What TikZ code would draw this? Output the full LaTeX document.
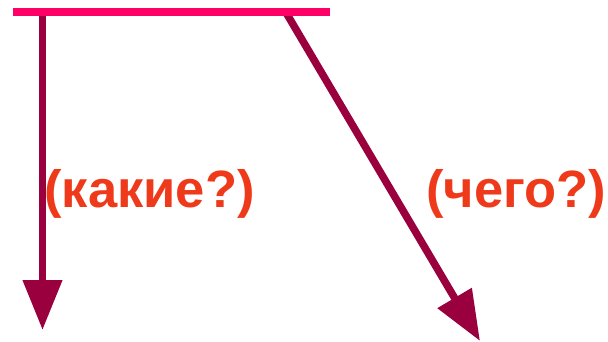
\documentclass[tikz,border=0pt]{standalone}
\usepackage{fontspec}
\setmainfont{Liberation Sans}
\usepackage{xcolor}
\usepackage{tikz}
\usetikzlibrary{arrows.meta, positioning}
\definecolor{barpink}{HTML}{FF0066}
\definecolor{wine}{HTML}{99003D}
\definecolor{askred}{HTML}{EE3A1A}
\tikzset{
  bar/.style={line width=8pt, color=barpink},
  qarrow/.style={-{Triangle[length=50pt, width=38pt]}, line width=7.5pt, color=wine},
  question/.style={font=\fontsize{52.5}{62}\selectfont\bfseries, text=askred, inner sep=0pt},
}
\begin{document}
\begin{tikzpicture}[x=1pt, y=-1pt]
  \useasboundingbox (0,0) rectangle (608,342);
  \coordinate (barL) at (13,12.5);
  \coordinate (barR) at (330,12.5);
  \coordinate (startA) at (42.5,12.5);
  \coordinate (startB) at (286,12.5);
  \coordinate (tipA) at (42.5,330);
  \coordinate (tipB) at (480,341);

  \draw[qarrow] (startA) -- (tipA);
  \draw[qarrow] (startB) -- (tipB);
  \draw[bar] (barL) -- (barR);

  \node[question] (kakie) at (149.5,194) {(какие?)};
  \node[question] (chego) at (516,194) {(чего?)};
\end{tikzpicture}
\end{document}
